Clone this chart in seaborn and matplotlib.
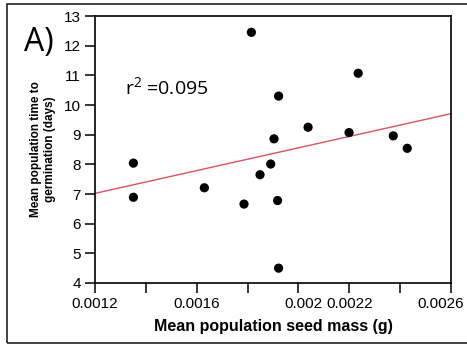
import matplotlib
matplotlib.use("Agg")
import matplotlib.pyplot as plt
import matplotlib.transforms as mtransforms
import seaborn as sns
import pandas as pd
import numpy as np
from matplotlib.patches import Rectangle

# Data
seed_mass = [0.001351, 0.001351, 0.00163, 0.001786, 0.001815, 0.001849, 0.001891,
             0.001904, 0.001918, 0.001922, 0.001922, 0.002038, 0.002199, 0.002235,
             0.002373, 0.002428]
germ_time = [8.04, 6.89, 7.21, 6.66, 12.45, 7.65, 8.01,
             8.86, 6.78, 10.30, 4.50, 9.25, 9.07, 11.07,
             8.96, 8.54]
x_ticks = [0.0012, 0.0014, 0.0016, 0.0018, 0.0020, 0.0022, 0.0024, 0.0026]
x_tick_labels = ["0.0012", "", "0.0016", "", "0.002", "0.0022", "", "0.0026"]
y_ticks = [4, 5, 6, 7, 8, 9, 10, 11, 12, 13]
r2_text = "r$^2$ =0.095"
panel_label = "A)"

df = pd.DataFrame({"mass": seed_mass, "time": germ_time})

sns.set_style("white")
plt.rcParams['font.family'] = ['Liberation Sans', 'DejaVu Sans']
plt.rcParams['mathtext.fontset'] = 'custom'
plt.rcParams['mathtext.rm'] = 'Open Sans'
plt.rcParams['text.color'] = 'black'
plt.rcParams['axes.labelcolor'] = 'black'

fig = plt.figure(figsize=(4.67, 3.45), dpi=100)
ax = fig.add_axes([95/467, 1-283/345, (451-95)/467, (283-16)/345])
ax.set_xlim(0.0012, 0.0026)
ax.set_ylim(4, 13)

sns.regplot(data=df, x="mass", y="time", ax=ax, ci=None, truncate=False,
            scatter_kws=dict(s=44, color="black", edgecolor="none", zorder=3, alpha=1),
            line_kws=dict(color="#e0505e", lw=1.0, zorder=2))

ax.set_xlim(0.0012, 0.0026)
ax.set_ylim(4, 13)
ax.set_xticks(x_ticks)
ax.set_xticklabels(x_tick_labels)
ax.set_yticks(y_ticks)
ax.tick_params(axis="both", direction="out", length=7, width=1.1, labelsize=11,
               colors="black", bottom=True, left=True, pad=3)
for sp in ax.spines.values():
    sp.set_color("black")
    sp.set_linewidth(1.2)

# small horizontal nudges of some tick labels, as in the reference
shifts = {"0.002": 5, "0.0026": -10}
for lab in ax.get_xticklabels():
    dx = shifts.get(lab.get_text(), 0)
    if dx:
        lab.set_transform(lab.get_transform() +
                          mtransforms.ScaledTranslation(dx/100, 0, fig.dpi_scale_trans))

ax.set_xlabel("Mean population seed mass (g)", fontsize=11.5, fontweight="bold",
              labelpad=6, color="black")
ax.set_ylabel("Mean population time to\ngermination (days)", fontsize=8.5,
              fontweight="bold", labelpad=6, color="black")

ax.text(0.001318, 10.57, r2_text, fontsize=14, va="center", ha="left",
        color="black", family=["Open Sans", "DejaVu Sans"])
fig.text(24/467, 1-42/345, panel_label, fontsize=23, va="center", ha="left",
         color="black", family=["Open Sans", "DejaVu Sans"])

fig.patches.append(Rectangle((7/467, 1-343/345), 1.2, (343-4)/345,
                             transform=fig.transFigure, fill=False,
                             edgecolor="#222222", lw=1.2, clip_on=False))

fig.savefig("out.png", dpi=100)
